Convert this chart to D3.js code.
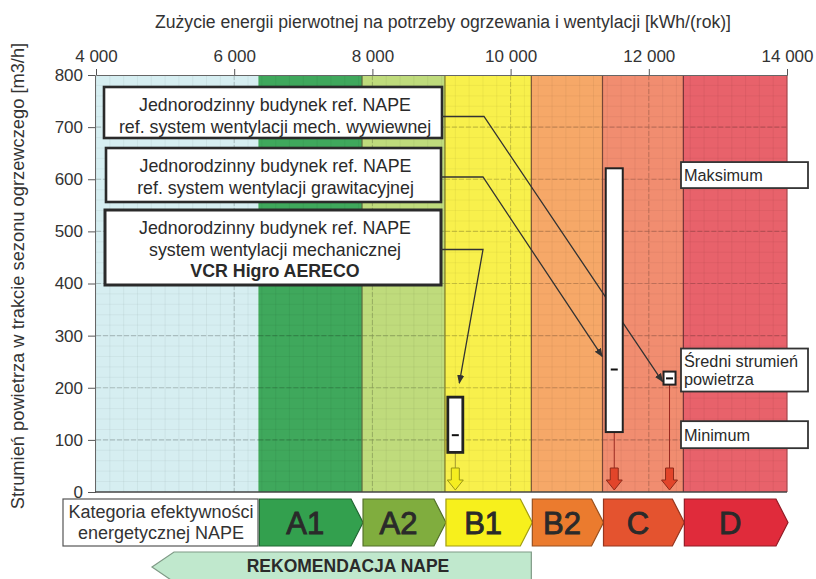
<!DOCTYPE html>
<html>
<head>
<meta charset="utf-8">
<script src="https://cdn.jsdelivr.net/npm/d3@7"></script>
<style>
  body { margin: 0; background: #fff; }
  svg { display: block; font-family: "Liberation Sans", Arial, sans-serif; }
</style>
</head>
<body>
<svg id="chart" width="816" height="579"></svg>
<script>
// axes
const xTicks = [4000, 6000, 8000, 10000, 12000, 14000];
const yTicks = [0, 100, 200, 300, 400, 500, 600, 700, 800];
const xTitle = 'Zużycie energii pierwotnej na potrzeby ogrzewania i wentylacji [kWh/(rok)]';
const yTitle = 'Strumień powietrza w trakcie sezonu ogrzewczego [m3/h]';

// energy classes (bands along x)
const classNames = ['', 'A1', 'A2', 'B1', 'B2', 'C', 'D'];
const classStart = [4000, 6350, 7850, 9050, 10300, 11330, 12500];
const classEnd = [6350, 7850, 9050, 10300, 11330, 12500, 14000];
const bandColors = ['#d6eef1', '#3fa85c', '#bfdb7c', '#f8f04c', '#f6a868', '#f18d70', '#e8626b'];
const badgeColors = [null, '#33a04e', '#80ad3e', '#f7f01c', '#eb7b2e', '#e4532f', '#e02b3b'];

// buildings: energy use and air flow (min / mean / max)
const buildings = ['mech. wywiewna', 'grawitacyjna', 'VCR Higro AERECO'];
const energyUse = [12300, 11500, 9200];
const flowMin = [206, 115, 76];
const flowMean = [218, 235, 109];
const flowMax = [231, 621, 182];
const arrowColors = ['#e2452a', '#e2452a', '#f5ee20'];

const svg = d3.select('#chart');
const x = d3.scaleLinear().domain([4000, 14000]).range([96, 787]);
const y = d3.scaleLinear().domain([0, 800]).range([492, 75]);

// bands + graph paper grid
const plot = svg.append('g');
classStart.forEach((s, i) => {
  const x0 = x(s), x1 = x(classEnd[i]);
  const dark = d3.color(bandColors[i]).darker(1.1);
  plot.append('rect')
    .attr('x', x0).attr('y', y(800))
    .attr('width', x1 - x0).attr('height', y(0) - y(800))
    .attr('fill', bandColors[i]);
  const g = plot.append('g');
  d3.range(Math.ceil(s / 200) * 200, classEnd[i], 200).forEach(v => {
    g.append('line').attr('x1', x(v)).attr('x2', x(v)).attr('y1', y(800)).attr('y2', y(0))
      .attr('stroke', dark).attr('stroke-opacity', 0.18).attr('stroke-width', 0.8);
  });
  d3.range(20, 800, 20).forEach(v => {
    g.append('line').attr('x1', x0).attr('x2', x1).attr('y1', y(v)).attr('y2', y(v))
      .attr('stroke', dark).attr('stroke-opacity', 0.15).attr('stroke-width', 0.8);
  });
  yTicks.slice(1, -1).forEach(v => {
    g.append('line').attr('x1', x0).attr('x2', x1).attr('y1', y(v)).attr('y2', y(v))
      .attr('stroke', dark).attr('stroke-opacity', 0.6).attr('stroke-width', 1.1)
      .attr('stroke-dasharray', '5,2');
  });
  xTicks.filter(v => v > s && v < classEnd[i]).forEach(v => {
    g.append('line').attr('x1', x(v)).attr('x2', x(v)).attr('y1', y(800)).attr('y2', y(0))
      .attr('stroke', dark).attr('stroke-opacity', 0.6).attr('stroke-width', 1)
      .attr('stroke-dasharray', '5,2');
  });
  if (i > 1) {
    plot.append('line').attr('x1', x0).attr('x2', x0).attr('y1', y(800)).attr('y2', y(0))
      .attr('stroke', d3.color(bandColors[i]).darker(2)).attr('stroke-width', 1.2);
  }
});
plot.append('line').attr('x1', x(14000)).attr('x2', x(14000)).attr('y1', y(800)).attr('y2', y(0))
  .attr('stroke', '#a4474c').attr('stroke-width', 1.2);

// axes
const xAxis = svg.append('g').attr('transform', `translate(0,${y(800)})`)
  .call(d3.axisTop(x).tickValues(xTicks).tickSize(6).tickPadding(7)
    .tickFormat(d => d3.format(',')(d).replace(',', ' ')));
const yAxis = svg.append('g').attr('transform', `translate(${x(4000) - 1},0)`)
  .call(d3.axisLeft(y).tickValues(yTicks).tickSize(7).tickPadding(5));
[xAxis, yAxis].forEach(a => {
  a.selectAll('text').attr('font-size', 17).attr('fill', '#333')
    .attr('font-family', '"Liberation Sans", Arial, sans-serif');
  a.selectAll('line').attr('stroke', '#555');
  a.select('.domain').attr('stroke', '#666');
});
svg.append('line').attr('x1', x(4000) - 1).attr('x2', x(14000)).attr('y1', y(0)).attr('y2', y(0))
  .attr('stroke', '#444').attr('stroke-width', 1.5);

svg.append('text').attr('x', 443).attr('y', 28).attr('text-anchor', 'middle')
  .attr('font-size', 17.6).attr('fill', '#333').text(xTitle);
svg.append('text').attr('transform', 'translate(24,276) rotate(-90)')
  .attr('text-anchor', 'middle').attr('font-size', 18.3).attr('fill', '#333').text(yTitle);

// description boxes on the left
const descBoxes = [
  { x: 104, y: 87, w: 338, h: 51, lines: ['Jednorodzinny budynek ref. NAPE', 'ref. system wentylacji mech. wywiewnej'] },
  { x: 106, y: 148, w: 335, h: 54, lines: ['Jednorodzinny budynek ref. NAPE', 'ref. system wentylacji grawitacyjnej'] },
  { x: 105, y: 210, w: 336, h: 75, lines: ['Jednorodzinny budynek ref. NAPE', 'system wentylacji mechanicznej', 'VCR Higro AERECO'] }
];
const arrowTargets = [
  [x(energyUse[0]) - 7, y(flowMax[0]) + 10],
  [x(energyUse[1]) - 12, y(flowMean[1] + 25)],
  [x(energyUse[2]) + 4, y(flowMax[2]) - 14]
];

const defs = svg.append('defs');
defs.append('marker').attr('id', 'head').attr('viewBox', '0 0 10 10')
  .attr('refX', 9).attr('refY', 5).attr('markerWidth', 9).attr('markerHeight', 9)
  .attr('markerUnits', 'userSpaceOnUse').attr('orient', 'auto')
  .append('path').attr('d', 'M0,1 L10,5 L0,9 Z').attr('fill', '#333');

descBoxes.forEach((b, i) => {
  const g = svg.append('g');
  g.append('rect').attr('x', b.x).attr('y', b.y).attr('width', b.w).attr('height', b.h)
    .attr('fill', '#fff').attr('stroke', '#2a2a2a').attr('stroke-width', i === 2 ? 3 : 2.6);
  b.lines.forEach((t, j) => {
    g.append('text').attr('x', b.x + b.w / 2 + 2).attr('y', b.y + 24 + j * 21.5)
      .attr('text-anchor', 'middle').attr('font-size', 17.8).attr('fill', '#2a2a2a')
      .attr('font-weight', j === 2 ? 'bold' : 'normal').text(t);
  });
  const my = b.y + b.h / 2 + (i === 0 ? 4 : 2);
  const elbow = b.x + b.w + 42;
  svg.append('path')
    .attr('d', `M${b.x + b.w},${my} L${elbow},${my} L${arrowTargets[i][0]},${arrowTargets[i][1]}`)
    .attr('fill', 'none').attr('stroke', '#333').attr('stroke-width', 1.3)
    .attr('marker-end', 'url(#head)');
});

// min / max bars with mean tick
const barWidths = [12, 17, 15];
buildings.forEach((name, i) => {
  const cx = x(energyUse[i]), w = barWidths[i];
  const col = arrowColors[i];
  const lineCol = i === 2 ? '#a59a30' : '#9a2a20';
  svg.append('line').attr('x1', cx).attr('x2', cx).attr('y1', y(flowMin[i])).attr('y2', y(0) - 24)
    .attr('stroke', lineCol).attr('stroke-width', 1);
  svg.append('rect').attr('x', cx - w / 2).attr('y', y(flowMax[i]))
    .attr('width', w).attr('height', y(flowMin[i]) - y(flowMax[i]))
    .attr('fill', '#fff').attr('stroke', '#222').attr('stroke-width', i === 2 ? 2.8 : 2);
  svg.append('line').attr('x1', cx - 3.5).attr('x2', cx + 3.5)
    .attr('y1', y(flowMean[i])).attr('y2', y(flowMean[i]))
    .attr('stroke', '#111').attr('stroke-width', 2);
  const top = y(0) - 24, bot = y(0) - 2;
  svg.append('path')
    .attr('d', `M${cx - 4},${top} L${cx + 4},${top} L${cx + 4},${top + 12} L${cx + 8},${top + 12}
      L${cx},${bot} L${cx - 8},${top + 12} L${cx - 4},${top + 12} Z`)
    .attr('fill', col).attr('stroke', d3.color(col).darker(1.3)).attr('stroke-width', 1);
});

// labels on the right (max / mean / min of the tallest bar)
const sideLabels = [
  { v: 608, h: 26, lines: ['Maksimum'] },
  { v: 234, h: 43, lines: ['Średni strumień', 'powietrza'] },
  { v: 110, h: 27, lines: ['Minimum'] }
];
sideLabels.forEach(l => {
  const cy = y(l.v);
  svg.append('rect').attr('x', 681).attr('y', cy - l.h / 2).attr('width', 127).attr('height', l.h)
    .attr('fill', '#fff').attr('stroke', '#333').attr('stroke-width', 1.8);
  l.lines.forEach((t, j) => {
    svg.append('text').attr('x', 684)
      .attr('y', cy + 6 - (l.lines.length - 1) * 9 + j * 18)
      .attr('font-size', 16.3).attr('fill', '#2a2a2a').text(t);
  });
});

// class row at the bottom
const rowTop = 499, rowBot = 546;
svg.append('rect').attr('x', 63).attr('y', rowTop).attr('width', 195).attr('height', rowBot - rowTop)
  .attr('fill', '#fff').attr('stroke', '#555').attr('stroke-width', 1.2);
['Kategoria efektywności', 'energetycznej NAPE'].forEach((t, j) => {
  svg.append('text').attr('x', 161).attr('y', rowTop + 19 + j * 21).attr('text-anchor', 'middle')
    .attr('font-size', 18).attr('fill', '#333').text(t);
});
classNames.forEach((c, i) => {
  if (!c) return;
  const x0 = x(classStart[i]) + 1, x1 = x(classEnd[i]) + 1, sh = x1 - 12;
  const mid = (rowTop + rowBot) / 2;
  svg.append('path')
    .attr('d', `M${x0},${rowTop} L${sh},${rowTop} L${x1},${mid} L${sh},${rowBot} L${x0},${rowBot} Z`)
    .attr('fill', badgeColors[i]).attr('stroke', d3.color(badgeColors[i]).darker(1.2)).attr('stroke-width', 1.2);
  svg.append('text').attr('x', (x0 + sh) / 2).attr('y', mid + 11).attr('text-anchor', 'middle')
    .attr('font-size', 31).attr('fill', '#2a2a2a')
    .attr('stroke', '#2a2a2a').attr('stroke-width', 0.9).text(c);
});

// recommendation arrow
const recFrom = x(10300), recTo = 152;
svg.append('path')
  .attr('d', `M${recFrom},552 L${recTo + 22},552 L${recTo},567 L${recTo + 22},582 L${recFrom},582 Z`)
  .attr('fill', '#c0e8cd').attr('stroke', '#7f9a86').attr('stroke-width', 1.2);
svg.append('text').attr('x', 348).attr('y', 572).attr('text-anchor', 'middle')
  .attr('font-size', 17.5).attr('font-weight', 'bold').attr('fill', '#2a2a2a').text('REKOMENDACJA NAPE');
</script>
</body>
</html>
